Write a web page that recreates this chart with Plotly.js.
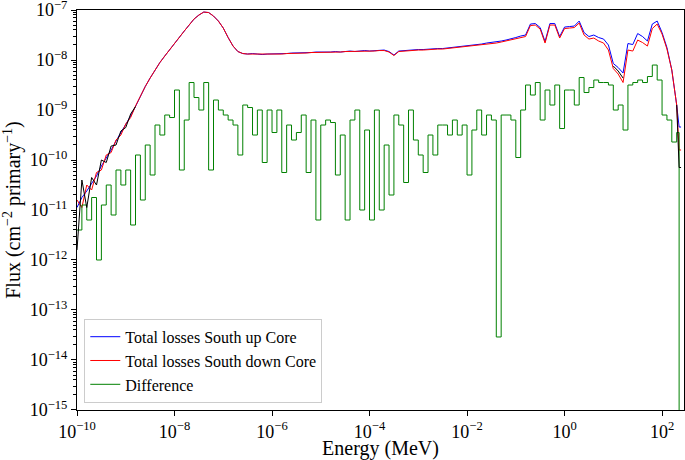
<!DOCTYPE html>
<html>
<head>
<meta charset="utf-8">
<script src="https://cdn.plot.ly/plotly-3.0.1.min.js"></script>
<style>
  html, body { margin: 0; padding: 0; background: #fff; }
  #chart { width: 685px; height: 460px; }
</style>
</head>
<body>
<div id="chart"></div>
<script>
// energy bins, log10(MeV), lower edges
const logE = [
  -10.0,-9.9,-9.8,-9.7,-9.6,-9.5,-9.4,-9.3,-9.2,-9.1,
  -9.0,-8.9,-8.8,-8.7,-8.6,-8.5,-8.4,-8.3,-8.2,-8.1,
  -8.0,-7.9,-7.8,-7.7,-7.6,-7.5,-7.4,-7.3,-7.2,-7.1,
  -7.0,-6.9,-6.8,-6.7,-6.6,-6.5,-6.4,-6.3,-6.2,-6.1,
  -6.0,-5.9,-5.8,-5.7,-5.6,-5.5,-5.4,-5.3,-5.2,-5.1,
  -5.0,-4.9,-4.8,-4.7,-4.6,-4.5,-4.4,-4.3,-4.2,-4.1,
  -4.0,-3.9,-3.8,-3.7,-3.6,-3.5,-3.4,-3.3,-3.2,-3.1,
  -3.0,-2.9,-2.8,-2.7,-2.6,-2.5,-2.4,-2.3,-2.2,-2.1,
  -2.0,-1.9,-1.8,-1.7,-1.6,-1.5,-1.4,-1.3,-1.2,-1.1,
  -1.0,-0.9,-0.8,-0.7,-0.6,-0.5,-0.4,-0.3,-0.2,-0.1,
  0.0,0.1,0.2,0.3,0.4,0.5,0.6,0.7,0.8,0.9,
  1.0,1.1,1.2,1.3,1.4,1.5,1.6,1.7,1.8,1.9,
  2.0,2.1,2.2,2.3,2.35,2.39
];

// log10 of flux (cm^-2 primary^-1)
const southUp = [
  -10.95,-10.75,-10.62,-10.48,-10.32,-10.12,-9.97,-9.8,-9.62,-9.46,
  -9.3,-9.12,-8.93,-8.72,-8.53,-8.36,-8.2,-8.05,-7.92,-7.79,
  -7.67,-7.55,-7.42,-7.3,-7.18,-7.1,-7.04,-7.05,-7.12,-7.22,
  -7.36,-7.55,-7.72,-7.83,-7.87,-7.88,-7.87,-7.88,-7.89,-7.88,
  -7.88,-7.87,-7.88,-7.87,-7.86,-7.86,-7.85,-7.86,-7.85,-7.84,
  -7.84,-7.85,-7.84,-7.83,-7.84,-7.83,-7.82,-7.83,-7.82,-7.81,
  -7.82,-7.81,-7.81,-7.80,-7.83,-7.90,-7.82,-7.81,-7.80,-7.80,
  -7.79,-7.79,-7.78,-7.78,-7.77,-7.77,-7.76,-7.75,-7.74,-7.73,
  -7.72,-7.71,-7.70,-7.68,-7.66,-7.65,-7.64,-7.62,-7.60,-7.58,
  -7.55,-7.52,-7.50,-7.28,-7.27,-7.35,-7.63,-7.27,-7.27,-7.53,
  -7.34,-7.33,-7.32,-7.22,-7.45,-7.53,-7.50,-7.55,-7.58,-7.70,
  -8.07,-8.15,-8.26,-7.67,-7.69,-7.47,-7.53,-7.62,-7.28,-7.22,
  -7.45,-7.75,-8.2,-8.9,-9.34,-9.34
];

const southDown = [
  -10.8,-10.95,-10.5,-10.6,-10.25,-10.2,-9.9,-9.85,-9.6,-9.5,
  -9.28,-9.15,-8.92,-8.72,-8.53,-8.36,-8.2,-8.05,-7.92,-7.79,
  -7.67,-7.55,-7.42,-7.3,-7.18,-7.1,-7.04,-7.05,-7.12,-7.22,
  -7.36,-7.55,-7.72,-7.83,-7.87,-7.88,-7.88,-7.88,-7.89,-7.89,
  -7.88,-7.88,-7.88,-7.87,-7.87,-7.86,-7.86,-7.86,-7.85,-7.85,
  -7.84,-7.85,-7.85,-7.84,-7.84,-7.83,-7.83,-7.83,-7.82,-7.82,
  -7.82,-7.82,-7.81,-7.81,-7.84,-7.91,-7.83,-7.82,-7.81,-7.81,
  -7.80,-7.80,-7.79,-7.79,-7.78,-7.78,-7.77,-7.76,-7.75,-7.74,
  -7.73,-7.72,-7.71,-7.70,-7.68,-7.67,-7.66,-7.64,-7.62,-7.60,
  -7.57,-7.55,-7.53,-7.31,-7.30,-7.38,-7.66,-7.30,-7.30,-7.56,
  -7.37,-7.36,-7.35,-7.26,-7.50,-7.58,-7.56,-7.62,-7.66,-7.80,
  -8.17,-8.28,-8.45,-7.80,-7.82,-7.60,-7.65,-7.72,-7.37,-7.28,
  -7.48,-7.78,-8.2,-8.9,-9.8,-9.8
];

// extra (unlabelled) black curve visible at the ends
const blackCurve = [
  -11.8,-10.4,-10.95,-10.35,-10.5,-10.0,-10.05,-9.72,-9.7,-9.42,
  -9.35,-9.08,-8.93,null,null,null,null,null,null,null,
  null,null,null,null,null,null,null,null,null,null,
  null,null,null,null,null,null,null,null,null,null,
  null,null,null,null,null,null,null,null,null,null,
  null,null,null,null,null,null,null,null,null,null,
  null,null,null,null,null,null,null,null,null,null,
  null,null,null,null,null,null,null,null,null,null,
  null,null,null,null,null,null,null,null,null,null,
  null,null,null,null,null,null,null,null,null,null,
  null,null,null,null,null,null,null,null,null,null,
  -8.12,-8.22,-8.36,null,null,null,null,null,null,null,
  null,null,null,-8.9,-10.15,-10.15
];

const difference = [
  -11.4,-10.9,-11.2,-10.75,-12.0,-10.9,-10.5,-11.1,-10.2,-10.5,
  -10.2,-11.3,-9.9,-10.8,-9.7,-10.3,-9.3,-9.5,-9.1,-9.15,
  -8.6,-10.2,-9.2,-8.45,-8.75,-9.0,-8.45,-10.2,-8.8,-9.0,
  -9.1,-9.2,-9.3,-9.9,-8.9,-8.95,-9.5,-9.0,-10.05,-9.0,
  -9.45,-9.0,-10.25,-9.3,-9.6,-9.45,-9.1,-10.25,-9.2,-11.2,
  -9.3,-9.2,-9.25,-10.3,-9.5,-11.2,-9.2,-9.0,-11.0,-9.4,
  -11.2,-9.0,-11.0,-9.7,-10.7,-9.1,-9.3,-10.45,-9.0,-9.6,
  -9.9,-10.25,-9.5,-9.9,-9.3,-9.3,-9.5,-9.2,-9.5,-9.3,
  -10.3,-9.4,-9.0,-9.5,-9.1,-9.2,-13.54,-9.1,-9.1,-9.2,
  -9.95,-9.0,-8.5,-8.7,-8.45,-9.2,-8.6,-8.9,-8.5,-9.37,
  -8.6,-8.6,-8.9,-8.35,-8.65,-8.55,-8.4,-8.45,-8.45,-8.5,
  -9.0,-8.9,-9.4,-8.5,-8.45,-8.4,-8.45,-8.33,-8.1,-8.4,
  -9.1,-9.2,-9.64,-9.45,-17,-17
];

const seriesNames = ["Total losses South up Core", "Total losses South down Core", "Difference"];

const energy = logE.map(v => Math.pow(10, v));
const toFlux = arr => arr.map(v => (v === null ? null : Math.pow(10, v)));

function sup(n) {
    return "10<sup>" + (n < 0 ? "\u2212" + (-n) : n) + "</sup>";
}

const xTicks = [-10, -8, -6, -4, -2, 0, 2];
const yTicks = [-15, -14, -13, -12, -11, -10, -9, -8, -7];
const yMinor = [];
for (let d = -15; d < -7; d++) {
    for (let m = 2; m <= 9; m++) yMinor.push(m * Math.pow(10, d));
}

const FONT = "Liberation Serif, DejaVu Serif, serif";

const traces = [
    {
        name: seriesNames[0], x: energy, y: toFlux(southUp),
        type: "scatter", mode: "lines",
        line: { color: "#0000ff", width: 1 }
    },
    {
        name: seriesNames[1], x: energy, y: toFlux(southDown),
        type: "scatter", mode: "lines",
        line: { color: "#ff0000", width: 1 }
    },
    {
        name: seriesNames[2], x: energy, y: toFlux(difference),
        type: "scatter", mode: "lines",
        line: { color: "#008000", width: 1, shape: "hv" }
    },
    {
        name: "black", x: energy, y: toFlux(blackCurve), type: "scatter", mode: "lines",
        line: { color: "#000000", width: 1 },
        showlegend: false, hoverinfo: "skip", connectgaps: false
    }
];

const layout = {
    width: 685, height: 460,
    margin: { l: 77, r: 1, t: 10, b: 50 },
    paper_bgcolor: "#ffffff", plot_bgcolor: "#ffffff",
    font: { family: FONT, color: "#000000", size: 18 },
    showlegend: true,
    legend: {
        x: 0.012, y: 0.018, xanchor: "left", yanchor: "bottom",
        bgcolor: "rgba(255,255,255,0.8)", bordercolor: "#cccccc", borderwidth: 1,
        font: { family: FONT, size: 16 }, tracegroupgap: 0
    },
    xaxis: {
        type: "log", range: [-10, 2.45],
        tickvals: xTicks.map(d => Math.pow(10, d)), ticktext: xTicks.map(sup),
        ticks: "outside", ticklen: 5, tickcolor: "#000",
        showline: true, linecolor: "#000", linewidth: 1, mirror: true,
        showgrid: false, zeroline: false, ticklabeloverflow: "allow",
        tickfont: { family: FONT, size: 18 },
        title: { text: "Energy (MeV)", font: { family: FONT, size: 20 }, standoff: 10 }
    },
    yaxis: {
        type: "log", range: [-15.001, -6.999],
        tickvals: yTicks.map(d => Math.pow(10, d)), ticktext: yTicks.map(sup),
        ticks: "outside", ticklen: 5, tickcolor: "#000",
        minor: { tickvals: yMinor, ticks: "outside", ticklen: 3, tickcolor: "#000", showgrid: false },
        showline: true, linecolor: "#000", linewidth: 1, mirror: true,
        showgrid: false, zeroline: false, ticklabeloverflow: "allow",
        tickfont: { family: FONT, size: 18 },
        title: { text: "Flux (cm<sup>\u22122</sup> primary<sup>\u22121</sup>)", font: { family: FONT, size: 20 }, standoff: 4 }
    }
};

Plotly.newPlot("chart", traces, layout, { displayModeBar: false, staticPlot: true });
</script>
</body>
</html>
